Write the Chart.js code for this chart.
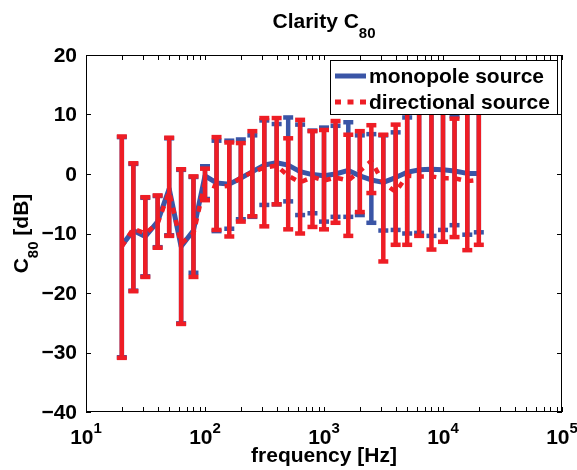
<!DOCTYPE html>
<html>
<head>
<meta charset="utf-8">
<title>Clarity C80</title>
<script src="https://cdn.jsdelivr.net/npm/chart.js@4.4.0/dist/chart.umd.min.js"></script>
<style>
  html, body { margin: 0; padding: 0; background: #fff; }
  #wrap { width: 577px; height: 470px; }
</style>
</head>
<body>
<div id="wrap"><canvas id="c80Chart" width="577" height="470"></canvas></div>
<script>
// third-octave band centres [Hz]
const freqs = [20, 25, 31.5, 40, 50, 63, 80, 100, 125, 160, 200, 250, 315, 400, 500, 630,
  800, 1000, 1250, 1600, 2000, 2500, 3150, 4000, 5000, 6300, 8000, 10000, 12500, 16000, 20000];

// monopole source: mean and error bar limits [dB]
const monoMean = [-12, -9.5, -10.5, -8, -2.5, -12.2, -9.5, -0.3, -1.5, -1.7, -0.7, 0.4, 1.5, 1.9, 1.5, 0.4,
  -0.1, -0.3, 0, 0.6, -0.3, -1.0, -1.4, -0.6, 0.3, 0.7, 0.8, 0.7, 0.5, 0.1, 0.1];
const monoLow = [-30.8, -19.6, -17.2, -12.3, -10.3, -25.1, -16.6, -4.2, -9.6, -9.2, -7.6, -7.2, -5.2, -5.1, -4.6, -6.9,
  -6.6, -8, -7.2, -7.2, -6.9, -8.2, -9.5, -9.4, -10, -9.9, -10.4, -9.4, -8.6, -10.2, -9.8];
const monoHigh = [6.2, 1.7, -4.0, -3.7, 6.0, 0.7, -0.5, 1.3, 5.6, 5.6, 5.8, 6.5, 9.0, 8.4, 9.5, 8.3,
  7.3, 7.8, 8.1, 8.7, 6.5, 6.7, 6.5, 7, 9.5, 12, 12, 12, 9.7, 12, 12];

// directional source: mean and error bar limits [dB]
const dirMean = [-12.2, -9.2, -10, -8.3, -3, -11.7, -10, -1.5, -2.2, -2, -0.6, 0.3, 1.1, 1.4, -0.3, -1.4,
  -0.5, -1.1, -0.6, -1.1, 0.5, 2.2, -1.5, -3, -0.3, -0.4, -0.4, -0.7, -0.7, -1.2, -1.0];
const dirLow = [-30.9, -19.7, -17.3, -12.4, -10.4, -25.2, -17.3, -4.4, -9.4, -10.5, -8, -7.1, -8.8, -5.1, -9.3, -10,
  -8.9, -9.3, -8.2, -10.4, -6.4, -3.2, -14.7, -11.9, -11.9, -10.4, -12.7, -11.4, -10.6, -12.8, -11.9];
const dirHigh = [6.3, 1.8, -3.9, -3.6, 6.1, 0.8, -0.4, 0.9, 6.2, 5.3, 5.2, 7.2, 9.4, 9.4, 6.0, 9.1,
  7.2, 7.4, 8.9, 6.6, 7.2, 8.2, 6.6, 8.3, 13, 13, 13, 13, 9.3, 13, 13];

// axis ticks
const yTicks = [20, 10, 0, -10, -20, -30, -40];
const xTickExps = [1, 2, 3, 4, 5];

const BLUE = '#3A55A6';
const RED = '#EE1D25';
const FONT = '"Liberation Sans", Arial, Helvetica, sans-serif';
const FS = 21;   // main font size
const FSS = 15;  // sub/superscript size

// --- helpers to turn the arrays into point lists ---
function meanPts(vals) {
  return freqs.map((f, i) => ({ x: f, y: vals[i] }));
}
// vertical stems, broken by nulls between the bands
function stems(lo, hi) {
  const pts = [];
  freqs.forEach((f, i) => pts.push({ x: f, y: lo[i] }, { x: f, y: hi[i] }, { x: f, y: null }));
  return pts;
}
function caps(lo, hi) {
  const pts = [];
  freqs.forEach((f, i) => pts.push({ x: f, y: lo[i] }, { x: f, y: hi[i] }));
  return pts;
}

function bold(px) { return 'bold ' + px + 'px ' + FONT; }

// text + subscript + rest, centred on cx, baseline at by
function drawSubText(ctx, main, sub, rest, cx, by) {
  ctx.font = bold(FS);
  const wm = ctx.measureText(main).width;
  const wr = ctx.measureText(rest).width;
  ctx.font = bold(FSS);
  const ws = ctx.measureText(sub).width;
  const sx = cx - (wm + ws + wr) / 2;
  ctx.textAlign = 'left';
  ctx.textBaseline = 'alphabetic';
  ctx.fillStyle = '#000';
  ctx.font = bold(FS);
  ctx.fillText(main, sx, by);
  ctx.font = bold(FSS);
  ctx.fillText(sub, sx + wm, by + 10);
  ctx.font = bold(FS);
  if (rest) ctx.fillText(rest, sx + wm + ws, by);
}

// --- MATLAB-like box, ticks, labels, title and legend ---
const matlabAxes = {
  id: 'matlabAxes',
  afterDatasetsDraw(chart) {
    const { ctx, chartArea: a, scales } = chart;
    const xs = scales.x, ys = scales.y;
    ctx.save();
    ctx.strokeStyle = '#000';
    ctx.lineWidth = 1;
    ctx.strokeRect(a.left + 0.5, a.top + 0.5, a.right - a.left - 1, a.bottom - a.top - 1);

    const tl = 5;
    ctx.beginPath();
    yTicks.forEach(v => {
      const py = Math.round(ys.getPixelForValue(v)) + 0.5;
      ctx.moveTo(a.left, py); ctx.lineTo(a.left + tl, py);
      ctx.moveTo(a.right, py); ctx.lineTo(a.right - tl, py);
    });
    xTickExps.forEach(e => {
      for (let k = 1; k <= 9; k++) {
        const f = k * Math.pow(10, e);
        if (f > xs.max) break;
        const px = Math.round(xs.getPixelForValue(f)) + 0.5;
        ctx.moveTo(px, a.bottom); ctx.lineTo(px, a.bottom - tl);
        ctx.moveTo(px, a.top); ctx.lineTo(px, a.top + tl);
      }
    });
    ctx.stroke();

    ctx.fillStyle = '#000';
    // y tick labels
    ctx.font = bold(FS);
    ctx.textAlign = 'right';
    ctx.textBaseline = 'middle';
    yTicks.forEach(v => {
      const txt = v < 0 ? '\u2212' + Math.abs(v) : String(v);
      ctx.fillText(txt, a.left - 9, ys.getPixelForValue(v) + 1);
    });

    // x tick labels 10^n
    ctx.textAlign = 'left';
    ctx.textBaseline = 'alphabetic';
    xTickExps.forEach(e => {
      const px = xs.getPixelForValue(Math.pow(10, e));
      ctx.font = bold(FS);
      const wb = ctx.measureText('10').width;
      ctx.font = bold(FSS);
      const ws = ctx.measureText(String(e)).width;
      const sx = px - (wb + ws) / 2;
      ctx.font = bold(FS);
      ctx.fillText('10', sx, a.bottom + 32);
      ctx.font = bold(FSS);
      ctx.fillText(String(e), sx + wb, a.bottom + 21);
    });

    // x axis label
    ctx.font = bold(FS);
    ctx.textAlign = 'center';
    ctx.fillText('frequency [Hz]', (a.left + a.right) / 2, 462);

    // title with subscript
    drawSubText(ctx, 'Clarity C', '80', '', (a.left + a.right) / 2, 28);

    // y axis label, rotated
    ctx.save();
    ctx.translate(28, (a.top + a.bottom) / 2);
    ctx.rotate(-Math.PI / 2);
    drawSubText(ctx, 'C', '80', ' [dB]', 0, 0);
    ctx.restore();

    ctx.restore();
  },
  afterDraw(chart) {
    const { ctx } = chart;
    ctx.save();
    // legend box
    const bx = 330, by = 60, bw = 228, bh = 55;
    ctx.fillStyle = '#fff';
    ctx.fillRect(bx, by, bw, bh);
    ctx.strokeStyle = '#000';
    ctx.lineWidth = 1;
    ctx.strokeRect(bx + 0.5, by + 0.5, bw - 1, bh - 1);

    ctx.lineCap = 'butt';
    ctx.strokeStyle = BLUE;
    ctx.lineWidth = 5;
    ctx.beginPath(); ctx.moveTo(335, 76); ctx.lineTo(366, 76); ctx.stroke();

    ctx.strokeStyle = RED;
    ctx.setLineDash([6, 6.5]);
    ctx.beginPath(); ctx.moveTo(335, 102); ctx.lineTo(367, 102); ctx.stroke();
    ctx.setLineDash([]);

    ctx.fillStyle = '#000';
    ctx.font = bold(FS);
    ctx.textAlign = 'left';
    ctx.textBaseline = 'alphabetic';
    ctx.fillText('monopole source', 369, 83);
    ctx.fillText('directional source', 369, 109);
    ctx.restore();
  }
};

const ctxEl = document.getElementById('c80Chart');
new Chart(ctxEl, {
  type: 'line',
  data: {
    datasets: [
      {
        label: 'directional source',
        data: meanPts(dirMean),
        borderColor: RED,
        borderWidth: 4.5,
        borderDash: [6, 6.5],
        pointRadius: 0,
        tension: 0,
        order: 0
      },
      {
        label: 'directional caps',
        data: caps(dirLow, dirHigh),
        showLine: false,
        pointStyle: 'line',
        pointRadius: 5,
        pointBorderWidth: 4.5,
        pointBorderColor: RED,
        order: 1
      },
      {
        label: 'directional bars',
        data: stems(dirLow, dirHigh),
        borderColor: RED,
        borderWidth: 4.5,
        pointRadius: 0,
        spanGaps: false,
        order: 2
      },
      {
        label: 'monopole source',
        data: meanPts(monoMean),
        borderColor: BLUE,
        borderWidth: 5,
        pointRadius: 0,
        tension: 0,
        borderJoinStyle: 'round',
        order: 3
      },
      {
        label: 'monopole caps',
        data: caps(monoLow, monoHigh),
        showLine: false,
        pointStyle: 'line',
        pointRadius: 5,
        pointBorderWidth: 4.5,
        pointBorderColor: BLUE,
        order: 4
      },
      {
        label: 'monopole bars',
        data: stems(monoLow, monoHigh),
        borderColor: BLUE,
        borderWidth: 4.5,
        pointRadius: 0,
        spanGaps: false,
        order: 5
      }
    ]
  },
  options: {
    responsive: false,
    animation: false,
    events: [],
    devicePixelRatio: 1,
    layout: { padding: { left: 86, right: 15, top: 55, bottom: 58 } },
    scales: {
      x: { type: 'logarithmic', min: 10, max: 100000, display: false },
      y: { type: 'linear', min: -40, max: 20, display: false }
    },
    plugins: {
      legend: { display: false },
      title: { display: false },
      tooltip: { enabled: false }
    }
  },
  plugins: [matlabAxes]
});
</script>
</body>
</html>
